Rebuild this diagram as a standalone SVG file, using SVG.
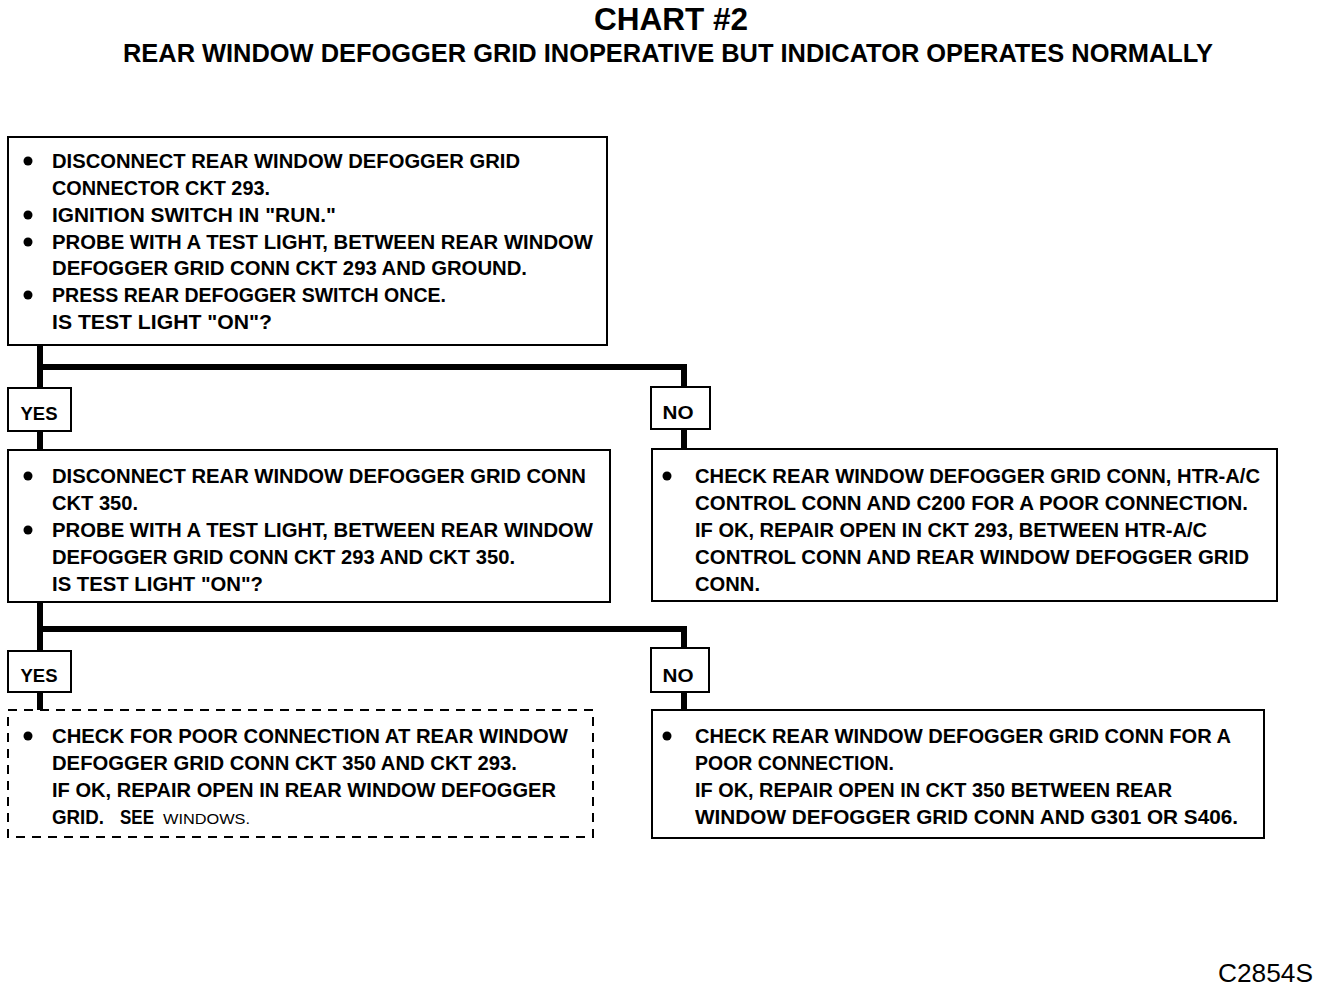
<svg xmlns="http://www.w3.org/2000/svg" width="1328" height="988" viewBox="0 0 1328 988">
<style>
.bg{fill:#fff}
.box{fill:#fff;stroke:#000;stroke-width:2}
.dash{fill:#fff;stroke:#000;stroke-width:2;stroke-dasharray:9 7}
.t{font-family:"Liberation Sans",Arial,sans-serif;font-weight:bold;font-size:19.5px;fill:#000}
.s{font-family:"Liberation Sans",Arial,sans-serif;font-size:15px;fill:#000}
.lbl{font-family:"Liberation Sans",Arial,sans-serif;font-weight:bold;font-size:18px;fill:#000}
.b{fill:#000}
.conn{fill:none;stroke:#000;stroke-width:6}
</style>
<rect class="bg" x="0" y="0" width="1328" height="988"/>
<g id="title">
<text class="t" x="671" y="30" style="font-size:32px" text-anchor="middle" textLength="154" lengthAdjust="spacingAndGlyphs">CHART #2</text>
<text class="t" x="668" y="62" style="font-size:25px" text-anchor="middle" textLength="1090" lengthAdjust="spacingAndGlyphs">REAR WINDOW DEFOGGER GRID INOPERATIVE BUT INDICATOR OPERATES NORMALLY</text>
</g>
<g id="connectors">
<polyline class="conn" points="40,345 40,388"/>
<polyline class="conn" points="40,367 684,367 684,387"/>
<line class="conn" x1="40" y1="431" x2="40" y2="450"/>
<line class="conn" x1="684" y1="429" x2="684" y2="449"/>
<polyline class="conn" points="40,602 40,651"/>
<polyline class="conn" points="40,629 684,629 684,648"/>
<line class="conn" x1="40" y1="692" x2="40" y2="710"/>
<line class="conn" x1="684" y1="692" x2="684" y2="710"/>
</g>
<g id="node1">
<rect class="box" x="8" y="137" width="599" height="208"/>
<circle class="b" cx="28" cy="161" r="4.5"/>
<circle class="b" cx="28" cy="215" r="4.5"/>
<circle class="b" cx="28" cy="242" r="4.5"/>
<circle class="b" cx="28" cy="295" r="4.5"/>
<text class="t" x="52" y="168" textLength="468" lengthAdjust="spacingAndGlyphs">DISCONNECT REAR WINDOW DEFOGGER GRID</text>
<text class="t" x="52" y="195" textLength="218" lengthAdjust="spacingAndGlyphs">CONNECTOR CKT 293.</text>
<text class="t" x="52" y="222" textLength="284" lengthAdjust="spacingAndGlyphs">IGNITION SWITCH IN "RUN."</text>
<text class="t" x="52" y="249" textLength="541" lengthAdjust="spacingAndGlyphs">PROBE WITH A TEST LIGHT, BETWEEN REAR WINDOW</text>
<text class="t" x="52" y="275" textLength="475" lengthAdjust="spacingAndGlyphs">DEFOGGER GRID CONN CKT 293 AND GROUND.</text>
<text class="t" x="52" y="302" textLength="394" lengthAdjust="spacingAndGlyphs">PRESS REAR DEFOGGER SWITCH ONCE.</text>
<text class="t" x="52" y="329" textLength="220" lengthAdjust="spacingAndGlyphs">IS TEST LIGHT "ON"?</text>
</g>
<g id="yes1">
<rect class="box" x="8" y="388" width="63" height="43"/>
<text class="lbl" x="39" y="420" text-anchor="middle" textLength="37" lengthAdjust="spacingAndGlyphs">YES</text>
</g>
<g id="no1">
<rect class="box" x="651" y="387" width="59" height="42"/>
<text class="lbl" x="678" y="419" text-anchor="middle" textLength="31" lengthAdjust="spacingAndGlyphs">NO</text>
</g>
<g id="node2">
<rect class="box" x="8" y="450" width="602" height="152"/>
<circle class="b" cx="28" cy="476" r="4.5"/>
<circle class="b" cx="28" cy="530" r="4.5"/>
<text class="t" x="52" y="483" textLength="534" lengthAdjust="spacingAndGlyphs">DISCONNECT REAR WINDOW DEFOGGER GRID CONN</text>
<text class="t" x="52" y="510" textLength="86" lengthAdjust="spacingAndGlyphs">CKT 350.</text>
<text class="t" x="52" y="537" textLength="541" lengthAdjust="spacingAndGlyphs">PROBE WITH A TEST LIGHT, BETWEEN REAR WINDOW</text>
<text class="t" x="52" y="564" textLength="463" lengthAdjust="spacingAndGlyphs">DEFOGGER GRID CONN CKT 293 AND CKT 350.</text>
<text class="t" x="52" y="591" textLength="211" lengthAdjust="spacingAndGlyphs">IS TEST LIGHT "ON"?</text>
</g>
<g id="node3">
<rect class="box" x="652" y="449" width="625" height="152"/>
<circle class="b" cx="667" cy="476" r="4.5"/>
<text class="t" x="695" y="483" textLength="565" lengthAdjust="spacingAndGlyphs">CHECK REAR WINDOW DEFOGGER GRID CONN, HTR-A/C</text>
<text class="t" x="695" y="510" textLength="553" lengthAdjust="spacingAndGlyphs">CONTROL CONN AND C200 FOR A POOR CONNECTION.</text>
<text class="t" x="695" y="537" textLength="512" lengthAdjust="spacingAndGlyphs">IF OK, REPAIR OPEN IN CKT 293, BETWEEN HTR-A/C</text>
<text class="t" x="695" y="564" textLength="554" lengthAdjust="spacingAndGlyphs">CONTROL CONN AND REAR WINDOW DEFOGGER GRID</text>
<text class="t" x="695" y="591" textLength="65" lengthAdjust="spacingAndGlyphs">CONN.</text>
</g>
<g id="yes2">
<rect class="box" x="8" y="651" width="63" height="41"/>
<text class="lbl" x="39" y="682" text-anchor="middle" textLength="37" lengthAdjust="spacingAndGlyphs">YES</text>
</g>
<g id="no2">
<rect class="box" x="651" y="648" width="58" height="44"/>
<text class="lbl" x="678" y="682" text-anchor="middle" textLength="31" lengthAdjust="spacingAndGlyphs">NO</text>
</g>
<g id="node4">
<rect class="dash" x="8" y="710" width="585" height="127"/>
<circle class="b" cx="28" cy="736" r="4.5"/>
<text class="t" x="52" y="743" textLength="516" lengthAdjust="spacingAndGlyphs">CHECK FOR POOR CONNECTION AT REAR WINDOW</text>
<text class="t" x="52" y="770" textLength="465" lengthAdjust="spacingAndGlyphs">DEFOGGER GRID CONN CKT 350 AND CKT 293.</text>
<text class="t" x="52" y="797" textLength="504" lengthAdjust="spacingAndGlyphs">IF OK, REPAIR OPEN IN REAR WINDOW DEFOGGER</text>
<text class="t" x="52" y="824" textLength="52" lengthAdjust="spacingAndGlyphs">GRID.</text>
<text class="t" x="120" y="824" textLength="34" lengthAdjust="spacingAndGlyphs">SEE</text>
<text class="s" x="163" y="824" textLength="87" lengthAdjust="spacingAndGlyphs">WINDOWS.</text>
</g>
<g id="node5">
<rect class="box" x="652" y="710" width="612" height="128"/>
<circle class="b" cx="667" cy="736" r="4.5"/>
<text class="t" x="695" y="743" textLength="536" lengthAdjust="spacingAndGlyphs">CHECK REAR WINDOW DEFOGGER GRID CONN FOR A</text>
<text class="t" x="695" y="770" textLength="199" lengthAdjust="spacingAndGlyphs">POOR CONNECTION.</text>
<text class="t" x="695" y="797" textLength="477" lengthAdjust="spacingAndGlyphs">IF OK, REPAIR OPEN IN CKT 350 BETWEEN REAR</text>
<text class="t" x="695" y="824" textLength="543" lengthAdjust="spacingAndGlyphs">WINDOW DEFOGGER GRID CONN AND G301 OR S406.</text>
</g>
<g id="code">
<text class="s" x="1218" y="982" style="font-size:26px" textLength="95" lengthAdjust="spacingAndGlyphs">C2854S</text>
</g>
</svg>
